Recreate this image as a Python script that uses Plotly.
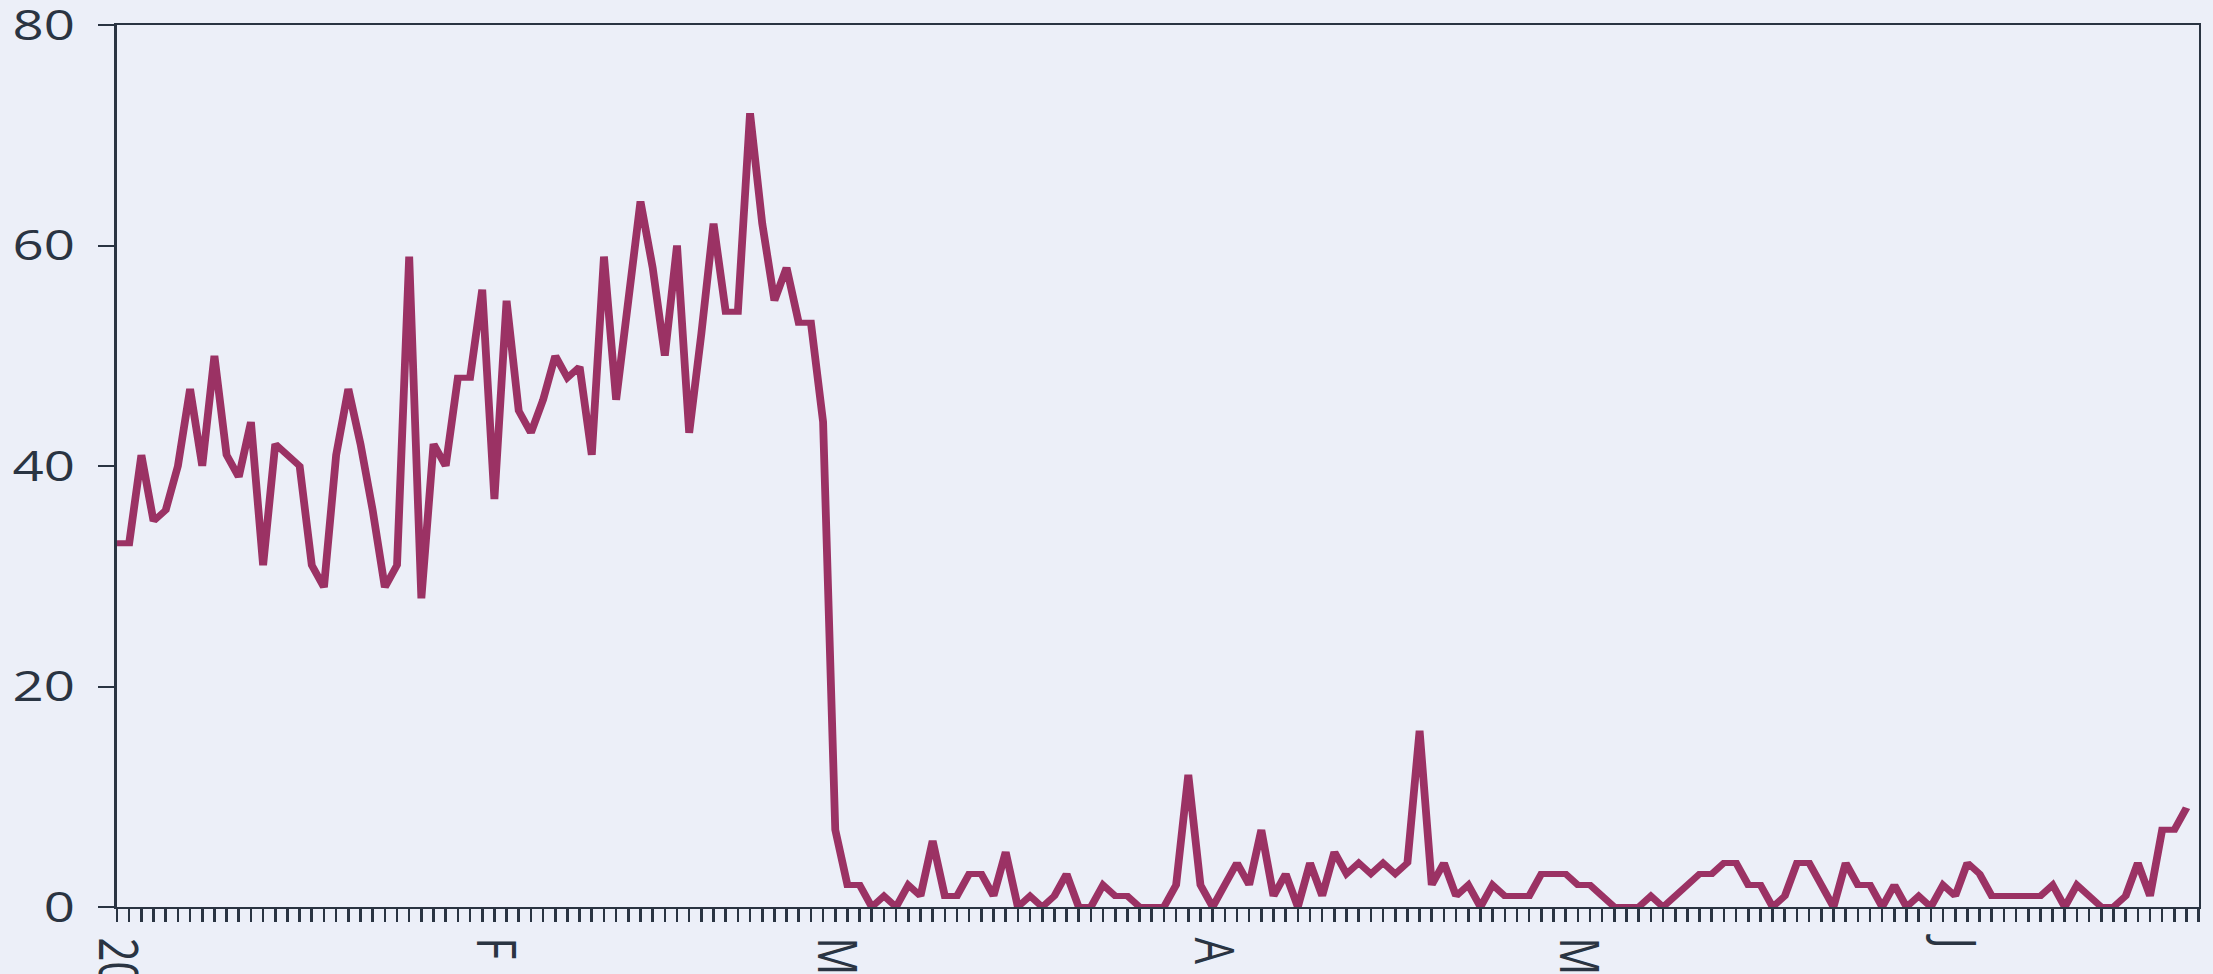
import pandas as pd
import plotly.graph_objects as go

start_date = "2021-01-01"
values = [
    33, 33, 41, 35, 36, 40, 47, 40, 50, 41, 39, 44, 31, 42, 41, 40, 31, 29, 41, 47,
    42, 36, 29, 31, 59, 28, 42, 40, 48, 48, 56, 37,
    55, 45, 43, 46, 50, 48, 49, 41, 59, 46, 55, 64, 58, 50, 60, 43, 52, 62,
    54, 54, 72, 62, 55, 58, 53, 53, 44, 7,
    2, 2, 0, 1, 0, 2, 1, 6, 1, 1, 3, 3, 1, 5, 0, 1, 0, 1, 3, 0,
    0, 2, 1, 1, 0, 0, 0, 2, 12, 2, 0, 2, 4, 2, 7, 1, 3, 0,
    4, 1, 5, 3, 4, 3, 4, 3, 4, 16, 2, 4, 1, 2, 0, 2, 1, 1, 1, 3,
    3, 3, 2, 2, 1, 0, 0, 0, 1, 0, 1, 2, 3, 3, 4, 4, 2, 2, 0, 1,
    4, 4, 2, 0, 4, 2, 2, 0, 2, 0, 1, 0, 2, 1, 4, 3, 1, 1, 1, 1,
    1, 2, 0, 2, 1, 0, 0, 1, 4, 1, 7, 7, 9,
]
dates = pd.date_range(start_date, periods=len(values), freq="D")

tick_vals = ["2021-01-01", "2021-02-01", "2021-03-01", "2021-04-01", "2021-05-01", "2021-06-01"]
tick_text = ["2021", "F", "M", "A", "M", "J"]
y_ticks = [0, 20, 40, 60, 80]

axis_color = "#2a3442"
bg = "#ECEFF8"
font_family = "Open Sans, Arial, sans-serif"

# the reference is rendered at a narrower width and stretched horizontally
STRETCH = 1.3
BASE_W = round(2213 / STRETCH)

fig = go.Figure()
fig.add_trace(go.Scatter(
    x=dates, y=values, mode="lines",
    line=dict(color="#9B3264", width=6),
    showlegend=False,
))

fig.update_layout(
    width=BASE_W, height=974,
    margin=dict(l=90, r=11, t=25, b=67),
    paper_bgcolor=bg, plot_bgcolor=bg,
    font=dict(family=font_family, color=axis_color),
)
fig.update_xaxes(
    type="date",
    range=["2021-01-01", "2021-06-21"],
    tickvals=tick_vals, ticktext=tick_text,
    tickangle=90,
    tickfont=dict(size=42, color=axis_color, family=font_family),
    ticks="outside", ticklen=13, tickwidth=2, tickcolor=axis_color,
    minor=dict(ticks="outside", dtick=86400000, tick0="2021-01-01",
               ticklen=13, tickwidth=2, tickcolor=axis_color),
    showline=True, linecolor=axis_color, linewidth=2, mirror=True,
    showgrid=False, zeroline=False, automargin=False,
    ticklabeloverflow="allow", ticklabelstandoff=7,
)
fig.update_yaxes(
    range=[0, 80], tickvals=y_ticks,
    tickfont=dict(size=42, color=axis_color, family=font_family),
    ticks="outside", ticklen=13, tickwidth=2, tickcolor=axis_color,
    showline=True, linecolor=axis_color, linewidth=2, mirror=True,
    showgrid=False, zeroline=False, automargin=False,
    ticklabeloverflow="allow", ticklabelstandoff=9,
)

post = (
    "document.body.style.margin='0';"
    "document.body.style.overflow='hidden';"
    "document.body.style.background='%s';"
    "var gd=document.getElementById('{plot_id}');"
    "gd.style.transformOrigin='0 0';"
    "gd.style.transform='scaleX(%f)';"
) % (bg, 2213 / BASE_W)

fig.write_html("out.html", post_script=post, config={"displayModeBar": False})
